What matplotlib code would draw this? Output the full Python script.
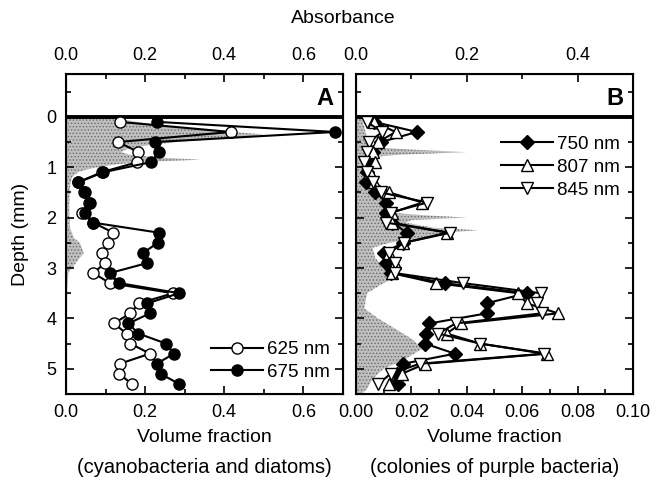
import numpy as np
import matplotlib
matplotlib.use("Agg")
import matplotlib.pyplot as plt
from matplotlib.ticker import MultipleLocator

plt.rcParams['font.family'] = ['Liberation Sans', 'DejaVu Sans']
plt.rcParams['font.size'] = 13
plt.rcParams['hatch.linewidth'] = 0.6

# depth of the sampled points (mm)
depth = [0.1, 0.3, 0.5, 0.7, 0.9, 1.1, 1.3, 1.5, 1.7, 1.9, 2.1, 2.3, 2.5, 2.7,
         2.9, 3.1, 3.3, 3.5, 3.7, 3.9, 4.1, 4.3, 4.5, 4.7, 4.9, 5.1, 5.3]

# panel A: cyanobacteria and diatoms
vf_625 = [0.136, 0.416, 0.132, 0.183, 0.180, 0.090, 0.030, 0.045, 0.058, 0.040,
          0.069, 0.120, 0.107, 0.090, 0.099, 0.069, 0.111, 0.271, 0.185, 0.162,
          0.121, 0.153, 0.163, 0.212, 0.136, 0.135, 0.166]
vf_675 = [0.231, 0.680, 0.225, 0.236, 0.214, 0.094, 0.031, 0.048, 0.061, 0.048,
          0.069, 0.236, 0.232, 0.195, 0.206, 0.111, 0.135, 0.286, 0.206, 0.212,
          0.158, 0.183, 0.253, 0.273, 0.229, 0.239, 0.286]

# panel B: colonies of purple bacteria
vf_750 = [0.0065, 0.022, 0.009, 0.006, 0.005, 0.004, 0.0035, 0.007, 0.011, 0.011,
          0.013, 0.0185, 0.017, 0.010, 0.011, 0.0125, 0.032, 0.0616, 0.0472, 0.0472,
          0.0265, 0.0253, 0.0249, 0.0357, 0.0171, 0.0147, 0.0153]
vf_807 = [0.0065, 0.0143, 0.008, 0.006, 0.007, 0.005, 0.0065, 0.012, 0.024, 0.013,
          0.013, 0.033, 0.017, 0.012, 0.014, 0.013, 0.0289, 0.0586, 0.0616, 0.073,
          0.038, 0.0327, 0.0448, 0.069, 0.025, 0.0165, 0.012]
vf_845 = [0.0039, 0.0095, 0.0047, 0.004, 0.003, 0.004, 0.006, 0.009, 0.0257, 0.0125,
          0.011, 0.034, 0.0173, 0.012, 0.014, 0.014, 0.0387, 0.0667, 0.0655, 0.067,
          0.036, 0.0297, 0.0448, 0.068, 0.023, 0.0125, 0.008]

# absorbance profiles (grey background)
abs_depth_A = [0.0, 0.05, 0.1, 0.15, 0.2, 0.25, 0.3, 0.35, 0.4, 0.45, 0.5, 0.55,
               0.6, 0.65, 0.7, 0.75, 0.8, 0.85, 0.9, 0.95, 1.0, 1.05, 1.1, 1.2,
               1.4, 1.8, 2.2, 2.4, 2.5, 2.6, 2.7, 2.8, 2.9, 3.0, 3.1, 3.4, 4.0,
               5.0, 5.5]
abs_A = [0.10, 0.14, 0.18, 0.22, 0.28, 0.34, 0.42, 0.50, 0.46, 0.36, 0.28, 0.22,
         0.18, 0.15, 0.14, 0.16, 0.22, 0.34, 0.18, 0.12, 0.08, 0.05, 0.03, 0.015,
         0.01, 0.008, 0.01, 0.02, 0.035, 0.04, 0.045, 0.035, 0.025, 0.015, 0.006,
         0.003, 0.002, 0.002, 0.0]
abs_depth_B = [0.0, 0.2, 0.4, 0.6, 0.65, 0.7, 0.75, 0.8, 0.9, 1.1, 1.3, 1.5, 1.7,
               1.9, 1.95, 2.0, 2.05, 2.1, 2.2, 2.25, 2.3, 2.4, 2.5, 2.6, 2.8, 3.0,
               3.2, 3.3, 3.5, 3.8, 4.0, 4.2, 4.4, 4.6, 4.8, 5.0, 5.2, 5.4, 5.5]
abs_B = [0.01, 0.015, 0.02, 0.03, 0.1, 0.2, 0.08, 0.03, 0.025, 0.02, 0.03, 0.04,
         0.05, 0.06, 0.12, 0.2, 0.1, 0.09, 0.14, 0.22, 0.16, 0.12, 0.06, 0.03,
         0.035, 0.05, 0.07, 0.05, 0.02, 0.015, 0.04, 0.07, 0.1, 0.12, 0.09, 0.05,
         0.03, 0.02, 0.01]

fig = plt.figure(figsize=(6.65, 4.87), dpi=100)
axA = fig.add_axes([0.0992, 0.191, 0.4165, 0.657])
axB = fig.add_axes([0.5353, 0.191, 0.4165, 0.657])

ylim = (5.5, -0.85)


def ticks(ax, axis='both'):
    ax.tick_params(axis=axis, which='both', direction='in', width=1.2, labelsize=13)
    ax.tick_params(axis=axis, which='major', length=6, pad=7)
    ax.tick_params(axis=axis, which='minor', length=3.5)


def style(ax, major, minor):
    ax.xaxis.set_major_locator(MultipleLocator(major))
    ax.xaxis.set_minor_locator(MultipleLocator(minor))
    ax.yaxis.set_major_locator(MultipleLocator(1))
    ax.yaxis.set_minor_locator(MultipleLocator(0.5))
    ticks(ax)
    ax.tick_params(which='both', top=False, right=True)
    for s in ax.spines.values():
        s.set_linewidth(1.5)


def shade(ax, d, a):
    ax.fill_betweenx(d, 0, a, facecolor='0.75', edgecolor='0.42', hatch='.....',
                     lw=0, zorder=0)


# ---- panel A
axA.set_xlim(0, 0.7)
axA.set_ylim(*ylim)
topA = axA.twiny()
topA.set_xlim(0, 0.7)
shade(topA, abs_depth_A, abs_A)
topA.set_ylim(*ylim)
axA.set_zorder(topA.get_zorder() + 1)
axA.patch.set_visible(False)
axA.axhline(0, color='k', lw=2.8)
axA.plot(vf_625, depth, '-o', color='k', mfc='white', mec='k', ms=8, lw=1.5, label='625 nm')
axA.plot(vf_675, depth, '-o', color='k', mfc='k', mec='k', ms=8, lw=1.5, label='675 nm')
style(axA, 0.2, 0.1)
axA.set_xticks([0.0, 0.2, 0.4, 0.6])
axA.set_xticklabels(['0.0', '0.2', '0.4', '0.6'])
axA.set_yticks([0, 1, 2, 3, 4, 5])
axA.set_ylabel('Depth (mm)', fontsize=14, labelpad=12)
axA.text(0.5, -0.135, 'Volume fraction', transform=axA.transAxes, ha='center',
         va='center', fontsize=14)
axA.text(0.5, -0.23, '(cyanobacteria and diatoms)', transform=axA.transAxes,
         ha='center', va='center', fontsize=14.5)
axA.text(0.675, -0.37, 'A', fontsize=17, fontweight='bold', ha='right', va='center')
axA.legend(loc='lower right', frameon=False, handlelength=2.8, fontsize=13.5,
           borderaxespad=0.3, handletextpad=0.2, labelspacing=0.3)
topA.set_xticks([0.0, 0.2, 0.4, 0.6])
topA.set_xticklabels(['0.0', '0.2', '0.4', '0.6'])
topA.xaxis.set_minor_locator(MultipleLocator(0.1))
ticks(topA, 'x')

# ---- panel B
axB.set_xlim(0, 0.10)
axB.set_ylim(*ylim)
topB = axB.twiny()
topB.set_xlim(0, 0.5)
shade(topB, abs_depth_B, abs_B)
topB.set_ylim(*ylim)
axB.set_zorder(topB.get_zorder() + 1)
axB.patch.set_visible(False)
axB.axhline(0, color='k', lw=2.8)
axB.plot(vf_750, depth, '-D', color='k', mfc='k', mec='k', ms=7, lw=1.5, label='750 nm')
axB.plot(vf_807, depth, '-^', color='k', mfc='white', mec='k', ms=9, lw=1.5, label='807 nm')
axB.plot(vf_845, depth, '-v', color='k', mfc='white', mec='k', ms=9, lw=1.5, label='845 nm')
style(axB, 0.02, 0.01)
axB.set_xticks([0.0, 0.02, 0.04, 0.06, 0.08, 0.10])
axB.set_xticklabels(['0.00', '0.02', '0.04', '0.06', '0.08', '0.10'])
axB.set_yticks([0, 1, 2, 3, 4, 5])
axB.set_yticklabels([])
axB.text(0.5, -0.135, 'Volume fraction', transform=axB.transAxes, ha='center',
         va='center', fontsize=14)
axB.text(0.5, -0.23, '(colonies of purple bacteria)', transform=axB.transAxes,
         ha='center', va='center', fontsize=14.5)
axB.text(0.0965, -0.37, 'B', fontsize=17, fontweight='bold', ha='right', va='center')
axB.legend(loc='upper right', bbox_to_anchor=(0.98, 0.83), borderaxespad=0,
           frameon=False, handlelength=2.8, fontsize=13.5, handletextpad=0.2,
           labelspacing=0.3)
topB.set_xticks([0.0, 0.2, 0.4])
topB.set_xticklabels(['0.0', '0.2', '0.4'])
topB.xaxis.set_minor_locator(MultipleLocator(0.1))
ticks(topB, 'x')

fig.text(0.5155, 0.962, 'Absorbance', ha='center', va='center', fontsize=14)

fig.savefig('out.png', dpi=100)
